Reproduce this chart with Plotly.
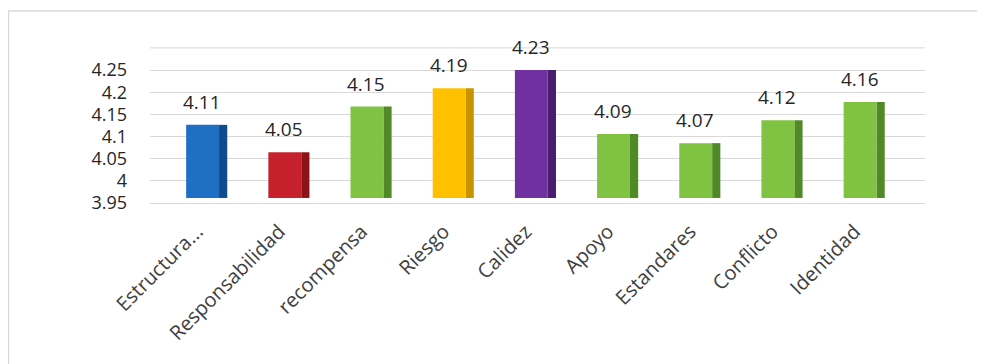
import plotly.graph_objects as go

categories = ["Estructura...", "Responsabilidad", "recompensa", "Riesgo", "Calidez",
              "Apoyo", "Estandares", "Conflicto", "Identidad"]
values = [4.11, 4.05, 4.15, 4.19, 4.23, 4.09, 4.07, 4.12, 4.16]
front_colors = ["#1F6FC5", "#C5202B", "#80C241", "#FFC000", "#7030A0",
                "#80C241", "#80C241", "#80C241", "#80C241"]
side_colors = ["#0F4C8C", "#8B1419", "#4F8A26", "#C99400", "#4B1D70",
               "#4F8A26", "#4F8A26", "#4F8A26", "#4F8A26"]
y_ticks = [3.95, 4.0, 4.05, 4.1, 4.15, 4.2, 4.25, 4.3]
y_ticktext = ["3.95", "4", "4.05", "4.1", "4.15", "4.2", "4.25", ""]
BASE = 3.95
Y_MAX = 4.3

FONT = "Open Sans"
OFF = 8  # page body margin
W, H = 985, 364
L, R, T, B = 150 - OFF, 68, 47 - OFF, 364 - (203 - OFF)
pw, ph = W - L - R, H - T - B

fig = go.Figure()
# invisible trace so the value axis (back wall) is drawn
fig.add_trace(go.Scatter(
    x=categories, y=values, mode="markers", yaxis="y",
    marker=dict(opacity=0), hoverinfo="skip", showlegend=False,
))
# side face (3D look)
fig.add_trace(go.Bar(
    x=categories, y=[v - BASE for v in values], base=BASE,
    width=0.1, offset=0.17, yaxis="y2",
    marker=dict(color=side_colors, line=dict(width=0)),
    hoverinfo="skip", showlegend=False,
))
fig.add_trace(go.Bar(
    x=categories, y=[v - BASE for v in values], base=BASE,
    width=0.4, offset=-0.23, yaxis="y2",
    marker=dict(color=front_colors, line=dict(width=0)),
    showlegend=False,
))

annotations = [
    dict(x=c, y=v, xref="x", yref="y2", text=f"{v:g}", showarrow=False,
         yanchor="bottom", yshift=8, xshift=-3,
         font=dict(family=FONT, size=19, color="#262626"))
    for c, v in zip(categories, values)
]

def px_x(px):
    return (px - OFF - L) / pw

def px_y(py):
    return (H - B - (py - OFF)) / ph

shapes = [
    dict(type="line", xref="paper", yref="paper", x0=px_x(8), x1=px_x(1000),
         y0=px_y(11), y1=px_y(11), line=dict(color="#D9D9D9", width=1.5)),
    dict(type="line", xref="paper", yref="paper", x0=px_x(8.5), x1=px_x(8.5),
         y0=px_y(11), y1=px_y(380), line=dict(color="#D9D9D9", width=1.5)),
    dict(type="line", xref="paper", yref="y", x0=0, x1=1,
         y0=Y_MAX, y1=Y_MAX, line=dict(color="#D9D9D9", width=1), layer="below"),
]

fig.update_layout(
    width=W, height=H,
    margin=dict(l=L, r=R, t=T, b=B),
    paper_bgcolor="white", plot_bgcolor="white",
    barmode="overlay",
    font=dict(family=FONT, color="#404040"),
    shapes=shapes,
    annotations=annotations,
    xaxis=dict(
        range=[-0.67, 8.76],
        tickangle=-45,
        tickfont=dict(family=FONT, size=20, color="#404040"),
        showgrid=False, showline=True, linecolor="#D9D9D9", linewidth=1,
        ticks="", fixedrange=True, automargin=False,
        ticklabelshift=-8, ticklabelstandoff=8,
    ),
    yaxis=dict(
        range=[3.95, 4.302],
        tickvals=y_ticks, ticktext=y_ticktext,
        tickfont=dict(family=FONT, size=18, color="#262626"),
        showgrid=True, gridcolor="#D9D9D9", gridwidth=1,
        zeroline=False, showline=False, ticks="",
        ticklabelstandoff=22, automargin=False,
    ),
    yaxis2=dict(
        overlaying="y", range=[3.939, 4.2804],
        visible=False, showgrid=False, zeroline=False,
    ),
)

fig.write_html("out.html")
